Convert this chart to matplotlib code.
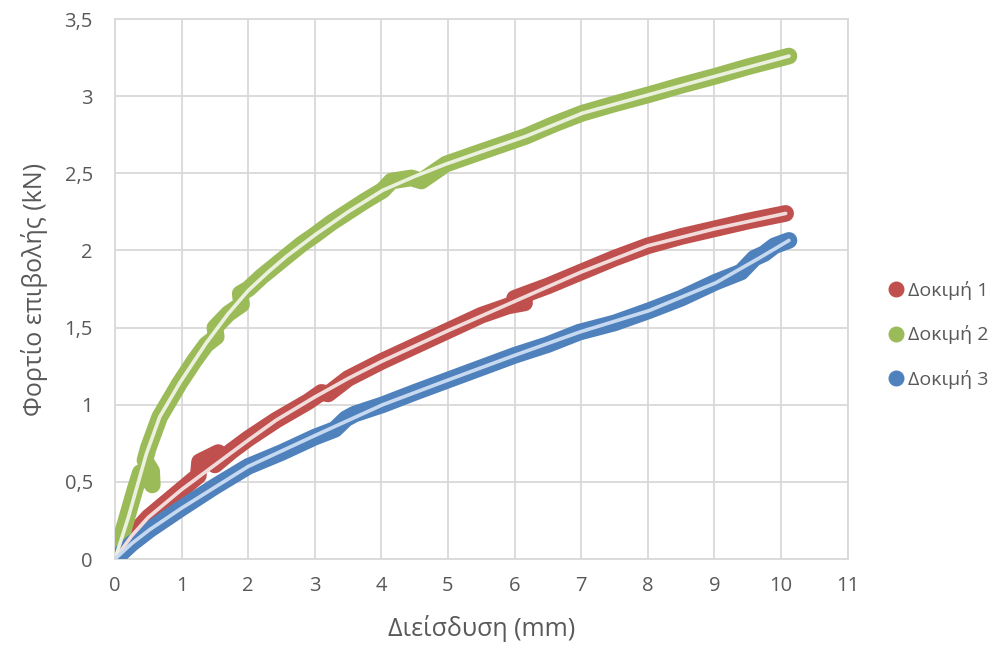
import numpy as np
import matplotlib.pyplot as plt

plt.rcParams['font.family'] = ['Open Sans', 'DejaVu Sans']

# Δοκιμή 1 (κόκκινο) - σημεία μέτρησης
x1 = [0, 0.25, 0.5, 1.0, 1.25, 1.27, 1.55, 1.5, 1.75, 2.0, 2.42, 2.9, 3.1, 3.2, 3.5, 4.0, 4.5, 5.0, 5.5, 5.9,
      6.15, 6.0, 6.5, 7.0, 7.5, 8.0, 8.5, 9.0, 9.5, 10.07]
y1 = [0, 0.15, 0.27, 0.45, 0.54, 0.63, 0.69, 0.61, 0.70, 0.78, 0.90, 1.02, 1.08, 1.07, 1.17, 1.28, 1.38, 1.48, 1.58, 1.64,
      1.66, 1.69, 1.77, 1.86, 1.95, 2.03, 2.09, 2.14, 2.19, 2.24]
# Δοκιμή 2 (πράσινο)
x2 = [0, 0.1, 0.2, 0.3, 0.38, 0.5, 0.56, 0.55, 0.45, 0.5, 0.67, 0.97, 1.2, 1.37, 1.52, 1.5, 1.7, 1.9, 1.88,
      2.0, 2.2, 2.4, 2.57, 2.8, 3.0, 3.25, 3.5, 3.75, 4.02, 4.15, 4.45, 4.6, 4.97, 5.5, 6.17, 6.6, 7.02, 7.5,
      8.02, 8.5, 9.02, 9.5, 10.12]
y2 = [0, 0.15, 0.3, 0.45, 0.56, 0.53, 0.48, 0.57, 0.64, 0.72, 0.92, 1.14, 1.29, 1.39, 1.44, 1.50, 1.59, 1.65, 1.72,
      1.75, 1.83, 1.90, 1.96, 2.04, 2.1, 2.18, 2.25, 2.32, 2.39, 2.45, 2.47, 2.45, 2.56, 2.64, 2.74, 2.82, 2.89, 2.95,
      3.01, 3.07, 3.13, 3.19, 3.26]
# Δοκιμή 3 (μπλε)
x3 = [0, 0.25, 0.52, 1.0, 1.5, 2.0, 2.5, 3.0, 3.3, 3.47, 3.6, 4.02, 4.5, 5.0, 5.5,
      6.0, 6.5, 6.97, 7.5, 8.02, 8.5, 9.02, 9.4, 9.6, 9.75, 9.9, 10.12]
y3 = [0, 0.1, 0.19, 0.33, 0.47, 0.60, 0.69, 0.79, 0.84, 0.91, 0.94, 1.0, 1.08, 1.16, 1.24,
      1.32, 1.39, 1.47, 1.53, 1.61, 1.69, 1.795, 1.86, 1.95, 1.98, 2.03, 2.065]

# γραμμές τάσης (ομαλές)
tx1 = [0, 0.25, 0.5, 1.0, 1.5, 2.0, 2.42, 3.0, 3.5, 4.0, 5.0, 6.0, 7.0, 8.0, 9.0, 10.07]
ty1 = [0, 0.15, 0.27, 0.45, 0.61, 0.77, 0.90, 1.05, 1.17, 1.28, 1.48, 1.67, 1.86, 2.03, 2.14, 2.24]
tx2 = [0, 0.2, 0.47, 0.67, 0.97, 1.2, 1.37, 1.7, 2.0, 2.3, 2.57, 3.0, 3.5, 4.02, 4.5, 4.97, 5.5, 6.17,
       7.02, 8.02, 9.02, 10.12]
ty2 = [0, 0.27, 0.68, 0.92, 1.14, 1.29, 1.40, 1.59, 1.74, 1.86, 1.96, 2.1, 2.25, 2.39, 2.48, 2.56, 2.64, 2.74,
       2.89, 3.01, 3.13, 3.26]
tx3 = [0, 0.25, 0.52, 1.0, 2.0, 3.0, 4.02, 5.0, 6.0, 6.97, 8.02, 9.02, 9.67, 10.12]
ty3 = [0, 0.1, 0.19, 0.33, 0.60, 0.80, 1.0, 1.16, 1.32, 1.47, 1.61, 1.79, 1.95, 2.065]

names = ['Δοκιμή 1', 'Δοκιμή 2', 'Δοκιμή 3']
colors = ['#C0504D', '#9BBB59', '#4F81BD']
light = ['#F2DCDB', '#EBF1DE', '#C6D9F0']

fig = plt.figure(figsize=(9.94, 6.47), dpi=100)
ax = fig.add_axes([0.1157, 0.136, 0.737, 0.8346])

series = [(x1, y1), (x2, y2), (x3, y3)]
trends = [(tx1, ty1), (tx2, ty2), (tx3, ty3)]
for (xs, ys), c, n in zip(series, colors, names):
    ax.plot(xs, ys, color=c, lw=12, solid_capstyle='round', solid_joinstyle='round', zorder=3)
    ax.plot([], [], 'o', color=c, ms=10.5, label=n)
for (xs, ys), c in zip(trends, light):
    ax.plot(xs, ys, color=c, lw=2.6, solid_capstyle='round', zorder=4)

ax.set_xlim(0, 11)
ax.set_ylim(0, 3.5)
ax.set_xticks(range(0, 12))
yt = np.arange(0, 3.51, 0.5)
ax.set_yticks(yt)
ax.set_yticklabels([('%g' % v).replace('.', ',') for v in yt])
ax.grid(True, color='#d9d9d9', lw=1.3)
ax.set_axisbelow(True)
for s in ax.spines.values():
    s.set_color('#d9d9d9')
    s.set_linewidth(1.3)
ax.tick_params(length=0, labelsize=14.5, colors='#595959')
ax.tick_params(axis='x', pad=12)
ax.tick_params(axis='y', pad=16)
ax.set_xlabel('Διείσδυση (mm)', fontsize=18, color='#595959', labelpad=14)
ax.set_ylabel('Φορτίο επιβολής (kN)', fontsize=18, color='#595959', labelpad=12)

leg = fig.legend(loc='center left', bbox_to_anchor=(884 / 994, 1 - 335 / 647), frameon=False,
                 fontsize=14, handletextpad=0.05, labelspacing=1.3, handlelength=1.2,
                 borderaxespad=0, borderpad=0)
for t in leg.get_texts():
    t.set_color('#595959')

fig.savefig('out.png', dpi=100)
